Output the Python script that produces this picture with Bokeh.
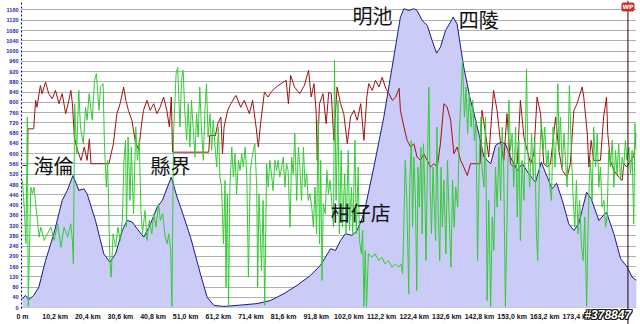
from bokeh.plotting import figure
from bokeh.models import Range1d, FixedTicker, Label, Span, BoxAnnotation
from bokeh.embed import file_html
from bokeh.resources import INLINE

# ---- elevation profile (km, m) ----
elev_km = [0, 0.9, 2.0, 3.5, 5.1, 7.2, 9.8, 12.4, 14.0, 15.8, 17.6, 19.2, 20.2, 22.8, 25.4, 27.3, 29.1,
           31.2, 32.7, 34.3, 35.8, 37.9, 40.0, 42.1, 43.7, 46.5, 48.3, 49.4, 52.5, 55.6, 57.7, 59.8,
           62.9, 67.0, 73.3, 77.5, 81.7, 85.8, 90.0, 93.1, 96.3, 97.8, 99.4, 100.9, 103.0, 104.6,
           106.7, 109.8, 112.9, 115.5, 118.1, 119.2, 120.7, 122.3, 123.3, 124.9, 126.5, 128.0, 129.4,
           130.6, 132.2, 134.6, 135.8, 137.9, 140.0, 141.0, 142.6, 144.2, 146.3, 147.8, 149.4, 150.9,
           152.5, 154.6, 156.2, 158.2, 160.3, 162.1, 164.0, 165.5, 166.9, 168.7, 170.7, 172.3, 173.8,
           176.3, 177.7, 180.1, 182.5, 184.8, 186.9, 189.0, 190.5, 191.9]
elev_m = [35, 48, 32, 48, 80, 184, 288, 418, 457, 515, 457, 463, 444, 340, 210, 178, 210,
          301, 340, 334, 308, 275, 327, 392, 418, 509, 431, 392, 275, 132, 41, 9,
          5, 9, 16, 28, 55, 87, 126, 165, 230, 223, 262, 288, 282, 301,
          366, 548, 742, 937, 1132, 1165, 1158, 1165, 1158, 1119, 1100, 1041, 992,
          1015, 1080, 1132, 1106, 937, 808, 762, 678, 587, 561, 632, 645, 639,
          587, 535, 561, 522, 489, 567, 509, 463, 485, 418, 327, 301, 327,
          450, 425, 340, 372, 288, 191, 158, 119, 106]

# ---- red series ----
red_km = [0, 1.6, 1.7, 3.5, 4.1, 4.5, 5.6, 6.1, 7.2, 8.2, 9.3, 10.3, 11.4, 12.4, 13.5, 14.5, 15.1, 15.6,
          16.2, 17.2, 18.3, 19.3, 20.2, 20.9, 21.4, 27.0, 28.4, 29.5, 30.5, 31.6, 32.3, 33.1, 34.2, 35.2,
          36.3, 37.1, 37.8, 38.9, 39.9, 41.0, 42.0, 43.0, 44.1, 45.1, 45.9, 46.5, 46.9, 58.2, 58.5, 60.3,
          61.0, 62.0, 62.5, 63.0, 64.1, 65.1, 66.7, 68.2, 69.3, 70.9, 71.9, 73.0, 73.7, 74.4, 75.6, 76.7,
          77.7, 79.3, 80.8, 82.4, 83.1, 83.8, 85.0, 86.6, 88.1, 89.4, 90.2, 91.1, 91.8, 92.1, 92.8, 93.9,
          94.9, 95.7, 96.5, 97.3, 98.3, 99.4, 100.4, 101.5, 102.5, 103.6, 104.6, 105.7, 106.7, 107.6,
          108.2, 109.3, 110.3, 111.4, 112.4, 113.5, 114.5, 115.6, 116.6, 117.7, 118.1, 119.2, 120.2,
          121.3, 122.3, 123.3, 124.4, 125.4, 126.5, 127.5, 128.6, 129.6, 130.6, 131.7, 132.7, 133.8,
          134.8, 135.8, 136.9, 137.9, 139.0, 140.0, 143.0, 143.6, 144.7, 145.7, 147.2, 148.3, 149.3,
          150.4, 151.4, 152.5, 153.5, 154.6, 155.6, 156.7, 157.7, 158.8, 159.8, 160.8, 161.9, 162.9,
          164.0, 165.0, 166.6, 167.6, 168.7, 170.2, 171.2, 172.3, 173.3, 174.9, 175.4, 176.5, 177.0,
          177.7, 178.5, 180.6, 181.6, 182.5, 182.9, 183.7, 184.8, 186.3, 187.4, 187.9, 188.9, 190.0,
          191.0, 191.8]
red_val = [554, 554, 697, 697, 808, 781, 866, 834, 879, 834, 814, 847, 795, 834, 756, 808, 847, 795,
           665, 613, 574, 626, 574, 658, 561, 561, 639, 756, 795, 860, 808, 769, 730, 652,
           613, 704, 769, 808, 769, 795, 756, 781, 821, 769, 704, 821, 606, 606, 671, 671,
           717, 743, 600, 704, 769, 795, 827, 781, 808, 756, 808, 704, 626, 717, 840, 821,
           840, 860, 873, 886, 795, 905, 860, 834, 866, 925, 821, 873, 756, 574, 795, 834,
           717, 840, 834, 652, 860, 795, 756, 639, 743, 769, 730, 795, 652, 820,
           873, 847, 886, 860, 898, 855, 834, 808, 820, 855, 769, 704, 652,
           626, 639, 587, 574, 600, 574, 548, 561, 548, 639, 795, 782, 730,
           600, 626, 574, 548, 515, 561, 561, 769, 678, 587, 847, 769, 652,
           574, 756, 561, 548, 561, 808, 665, 613, 561, 600, 820, 756, 561,
           548, 561, 743, 613, 535, 509, 561, 769, 795, 860, 820, 678, 548,
           652, 574, 574, 743, 820, 678, 574, 535, 509, 496, 561, 548, 574,
           587, 678]

# ---- green series ----
green_km = [0.0, 0.6, 1.1, 1.5, 1.8, 2.6, 3.1, 3.6, 4.2, 4.7, 5.2, 5.7, 6.8, 7.8, 8.9, 9.9, 11.0, 12.0,
            13.0, 14.1, 15.1, 15.6, 15.9, 16.3, 16.9, 17.6, 18.1, 19.0, 19.7, 20.2, 20.8, 21.8, 22.5,
            23.1, 23.9, 24.4, 25.2, 25.6, 26.2, 26.6, 27.3, 27.7, 28.3, 29.1, 29.8, 30.6, 31.2, 31.7,
            32.2, 32.5, 33.0, 33.6, 34.0, 34.7, 35.4, 35.9, 36.5, 37.0, 37.5, 38.3, 38.9, 39.6, 40.4,
            41.0, 41.7, 42.5, 43.1, 43.8, 44.6, 45.2, 45.7, 46.3, 46.7, 47.2, 48.0, 48.5, 49.0, 49.2,
            49.7, 50.2, 50.7, 51.3, 51.8, 52.3, 52.8, 53.3, 53.9, 54.4, 54.9, 55.4, 55.9, 56.5, 57.0,
            57.5, 58.0, 58.6, 59.1, 59.6, 60.1, 60.7, 61.2, 61.7, 62.2, 62.8, 63.3, 63.6, 64.0, 64.4,
            64.8, 65.4, 65.9, 66.4, 66.9, 67.5, 68.0, 68.5, 69.0, 69.6, 70.1, 70.6, 71.2, 71.9, 72.6,
            73.2, 73.5, 73.9, 74.7, 75.2, 75.7, 76.3, 76.8, 77.3, 77.8, 78.3, 78.9, 79.4, 79.9, 80.4,
            81.0, 81.5, 82.0, 82.5, 83.0, 83.6, 84.1, 84.6, 85.1, 85.7, 86.2, 86.7, 87.2, 87.8, 88.3,
            88.8, 89.3, 89.8, 90.4, 90.9, 91.4, 91.9, 92.4, 92.8, 93.2, 93.6, 94.0, 94.6, 95.1, 95.6,
            96.1, 96.7, 97.2, 97.5, 98.0, 98.6, 99.0, 99.6, 100.0, 100.7, 101.1, 101.8, 102.2, 102.8,
            103.2, 103.9, 104.3, 104.9, 105.3, 105.9, 106.3, 106.7, 107.1, 107.5, 108.1, 109.2, 110.2,
            111.3, 112.3, 113.3, 114.4, 115.4, 116.5, 117.5, 118.3, 118.8, 119.1, 119.6, 120.1, 120.7,
            121.0, 121.5, 121.9, 122.3, 122.8, 123.2, 123.6, 124.0, 124.5, 124.9, 125.3, 125.7, 126.1,
            126.6, 127.0, 127.4, 127.8, 128.3, 128.7, 129.1, 129.5, 129.9, 130.4, 130.8, 131.2, 131.7,
            132.3, 132.8, 133.3, 133.9, 134.4, 134.9, 135.4, 136.0, 136.5, 137.0, 137.5, 138.1, 138.6,
            139.1, 139.6, 140.2, 140.7, 141.2, 141.7, 142.2, 142.8, 143.3, 143.6, 144.2, 144.7, 145.2,
            145.7, 146.3, 146.8, 147.3, 147.8, 148.3, 148.9, 149.4, 149.9, 150.4, 150.9, 151.5, 152.0,
            152.5, 153.0, 153.5, 154.1, 154.6, 155.1, 155.6, 156.1, 156.7, 157.2, 157.5, 157.9, 158.5,
            159.1, 159.6, 160.1, 160.6, 161.0, 161.6, 162.1, 162.7, 163.2, 163.8, 164.3, 164.8, 165.3,
            165.8, 166.4, 166.9, 167.3, 167.7, 168.1, 168.7, 169.2, 169.7, 170.2, 170.9, 171.5, 172.1,
            172.6, 173.1, 173.6, 174.1, 174.7, 175.2, 175.7, 176.3, 176.7, 177.1, 177.5, 178.0, 178.5,
            179.1, 179.6, 180.1, 180.6, 181.1, 181.7, 182.2, 182.7, 183.2, 183.7, 184.3, 184.8, 185.3,
            185.8, 186.3, 186.9, 187.4, 187.9, 188.4, 188.9, 189.5, 190.0, 190.5, 191.0, 191.4, 191.8]
green_val = [496, 379, 250, 743, 5, 470, 444, 470, 392, 340, 275, 314, 262, 288, 314, 262, 327, 236,
             314, 275, 327, 262, 171, 795, 600, 847, 704, 639, 781, 730, 834, 730, 886,
             912, 769, 860, 873, 639, 470, 574, 184, 119, 288, 236, 314, 262, 340, 574,
             652, 314, 665, 418, 626, 366, 704, 574, 652, 379, 288, 379, 262, 340, 288,
             366, 314, 405, 340, 366, 275, 249, 288, 223, 5, 678, 912, 937, 769, 704,
             886, 925, 769, 652, 795, 626, 808, 704, 587, 756, 665, 860, 704, 574, 769,
             873, 665, 756, 613, 730, 639, 548, 704, 509, 470, 249, 496, 80, 444, 10,
             470, 626, 509, 600, 444, 574, 535, 600, 548, 626, 509, 119, 535, 600, 639,
             470, 80, 444, 145, 418, 10, 561, 470, 574, 522, 457, 574, 535, 574, 509,
             548, 587, 470, 561, 535, 314, 587, 522, 678, 418, 626, 548, 418, 626, 470,
             522, 418, 444, 392, 314, 470, 288, 730, 249, 574, 106, 405, 366, 535, 444,
             496, 405, 314, 963, 418, 808, 288, 613, 314, 522, 288, 613, 301, 470,
             288, 652, 288, 548, 262, 210, 301, 5, 223, 5, 210, 197, 210,
             184, 197, 171, 184, 158, 171, 158, 171, 132, 288, 574, 418, 54,
             470, 652, 314, 587, 418, 67, 548, 392, 626, 288, 639, 470, 184,
             600, 860, 470, 288, 548, 392, 262, 704, 366, 184, 548, 314, 496,
             210, 574, 366, 158, 496, 314, 470, 392, 678, 808, 963, 743, 860,
             678, 834, 704, 808, 652, 730, 184, 613, 743, 548, 470, 743, 28,
             418, 5, 353, 223, 548, 392, 626, 418, 704, 522, 5, 392, 808,
             613, 678, 470, 704, 353, 652, 262, 574, 418, 704, 931, 613, 470,
             678, 496, 652, 288, 184, 574, 730, 613, 704, 548, 613, 470, 418,
             704, 548, 678, 873, 613, 743, 548, 678, 574, 470, 866, 613, 418,
             314, 496, 288, 418, 236, 184, 353, 5, 288, 483, 574, 418, 704,
             548, 678, 470, 548, 392, 418, 314, 353, 613, 548, 652, 470, 613,
             522, 639, 496, 587, 548, 652, 574, 626, 522, 613, 327, 717, 613]

# ---- axes / annotations ----
y_ticks = list(range(0, 1161, 40))
x_tick_km = [0, 10.2, 20.4, 30.6, 40.8, 51.0, 61.2, 71.4, 81.6, 91.8, 102.0, 112.2, 122.4, 132.6,
             142.8, 153.0, 163.2, 173.4]
x_tick_labels = ["0 m", "10,2 km", "20,4 km", "30,6 km", "40,8 km", "51,0 km", "61,2 km", "71,4 km",
                 "81,6 km", "91,8 km", "102,0 km", "112,2 km", "122,4 km", "132,6 km", "142,8 km",
                 "153,0 km", "163,2 km", "173,4 km"]
place_names = ["海倫", "縣界", "柑仔店", "明池", "四陵"]
place_km = [3.4, 40.0, 96.3, 103.1, 136.3]
place_y = [554, 554, 371, 1138, 1124]
waypoint_km = 189.2
axis_km = -0.3
watermark = "#378847"

assert len(elev_km) == len(elev_m)
assert len(red_km) == len(red_val)
assert len(green_km) == len(green_val)

p = figure(width=640, height=324, x_range=Range1d(-6.875, 191.875), y_range=Range1d(-65.4, 1197),
           output_backend="svg", toolbar_location=None,
           min_border_left=0, min_border_right=4, min_border_top=0, min_border_bottom=0)
p.outline_line_color = None
p.background_fill_color = "white"
p.border_fill_color = "white"

p.xgrid.grid_line_color = None
p.ygrid.ticker = FixedTicker(ticks=y_ticks)
p.ygrid.grid_line_color = "#b0b0b0"

# y axis drawn at the left edge of the data area
p.yaxis.fixed_location = axis_km
p.yaxis.ticker = FixedTicker(ticks=y_ticks)
p.yaxis.bounds = (-3, 1197)
p.yaxis.axis_line_color = "#00007f"
p.yaxis.axis_line_dash = "2 2"
p.yaxis.major_tick_line_color = None
p.yaxis.major_tick_out = 0
p.yaxis.major_tick_in = 0
p.yaxis.minor_tick_line_color = None
p.yaxis.major_label_text_font = "Liberation Sans"
p.yaxis.major_label_text_font_size = "5.5px"
p.yaxis.major_label_text_font_style = "bold"
p.yaxis.major_label_text_color = "#2424b4"
p.yaxis.major_label_standoff = 3

p.xaxis.fixed_location = 0
p.xaxis.ticker = FixedTicker(ticks=x_tick_km)
p.xaxis.major_label_overrides = dict(zip(x_tick_km, x_tick_labels))
p.xaxis.axis_line_color = None
p.xaxis.major_tick_line_color = None
p.xaxis.major_tick_out = 0
p.xaxis.major_tick_in = 0
p.xaxis.minor_tick_line_color = None
p.xaxis.major_label_text_font = "Liberation Sans"
p.xaxis.major_label_text_font_size = "7px"
p.xaxis.major_label_text_font_style = "bold"
p.xaxis.major_label_text_color = "#111111"
p.xaxis.major_label_standoff = 5

# keep the left label strip free of grid lines
p.add_layout(BoxAnnotation(right=axis_km, fill_color="white", fill_alpha=1.0, line_color=None,
                           level="glyph"))

p.varea(x=elev_km, y1=[0] * len(elev_km), y2=elev_m, fill_color="#cbcbf7")
p.line(elev_km, elev_m, line_color="#1a1a8c", line_width=1)
p.line(red_km, red_val, line_color="#a01010", line_width=1)
p.line(green_km, green_val, line_color="#33cc33", line_width=1)

for name, kx, vy in zip(place_names, place_km, place_y):
    p.add_layout(Label(x=kx, y=vy, text=name, text_font="Noto Sans CJK TC", text_font_size="20px",
                       text_baseline="middle", text_align="left", text_color="#111111"))

p.add_layout(Span(location=waypoint_km, dimension="height", line_color="#2a0000", line_width=1))
p.add_layout(Label(x=waypoint_km, y=1172, text="WP", text_align="center", text_baseline="middle",
                   text_color="white", text_font="DejaVu Sans", text_font_size="6px",
                   text_font_style="bold", background_fill_color="#cc2a2a", border_radius=2, padding=1))

for dx, dy in [(-1, 0), (1, 0), (0, -1), (0, 1), (-1, -1), (1, 1), (-1, 1), (1, -1)]:
    p.add_layout(Label(x=175.6, y=-30, text=watermark, text_baseline="middle", text_align="left",
                       text_font="Liberation Sans", text_font_size="12px", text_font_style="bold italic",
                       text_color="#111111", x_offset=dx, y_offset=dy))
p.add_layout(Label(x=175.6, y=-30, text=watermark, text_baseline="middle", text_align="left",
                   text_font="Liberation Sans", text_font_size="12px", text_font_style="bold italic",
                   text_color="white"))

open("out.html", "w").write(file_html(p, INLINE))
